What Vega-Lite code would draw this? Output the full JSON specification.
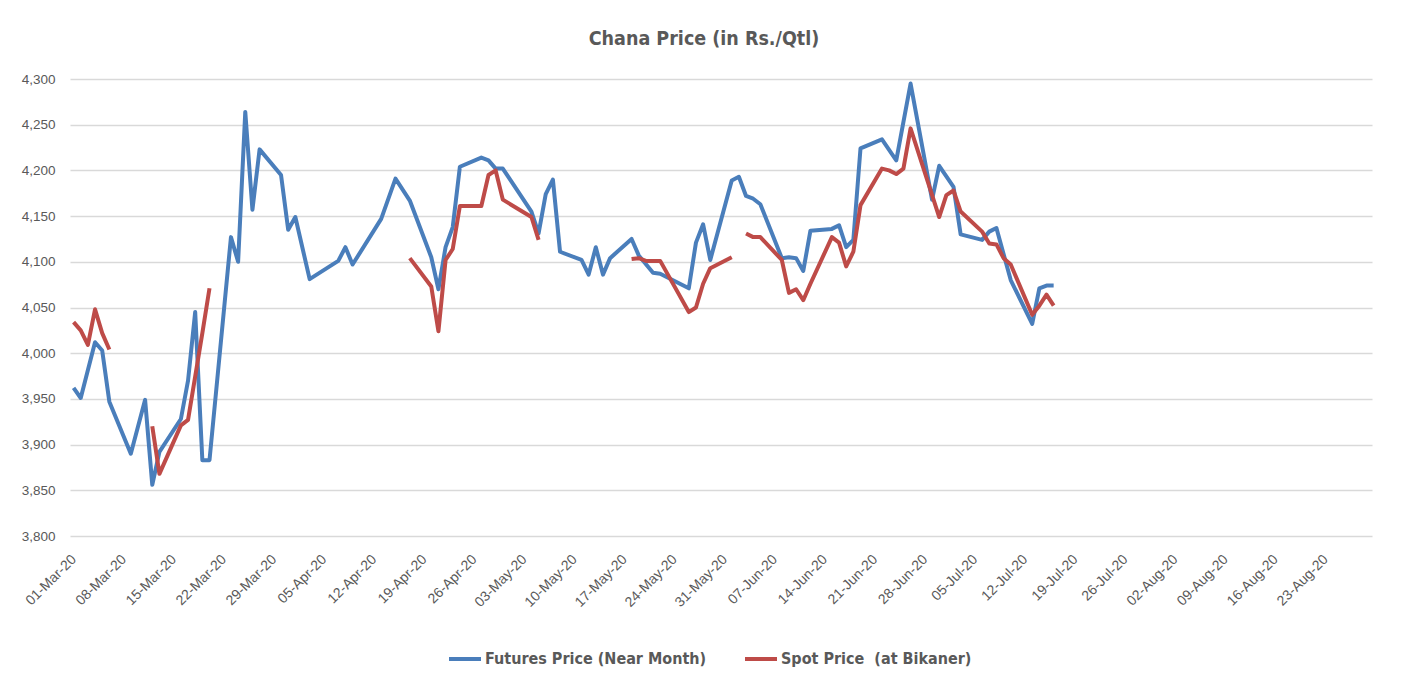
{
  "$schema": "https://vega.github.io/schema/vega-lite/v6.json",
  "autosize": "none",
  "width": 1302,
  "height": 457,
  "padding": {"left": 70, "top": 79, "right": 30, "bottom": 153},
  "background": "white",
  "title": {
    "text": "Chana Price (in Rs./Qtl)",
    "font": "DejaVu Sans Condensed, Liberation Sans, sans-serif",
    "fontSize": 19.5,
    "fontWeight": "bold",
    "color": "#595959",
    "anchor": "middle",
    "dx": -17,
    "offset": 23
  },
  "datasets": {
    "prices": [
      {"date": "2020-03-01", "series": "Futures Price (Near Month)", "seg": "f", "price": 3962},
      {"date": "2020-03-02", "series": "Futures Price (Near Month)", "seg": "f", "price": 3951},
      {"date": "2020-03-04", "series": "Futures Price (Near Month)", "seg": "f", "price": 4012},
      {"date": "2020-03-05", "series": "Futures Price (Near Month)", "seg": "f", "price": 4003},
      {"date": "2020-03-06", "series": "Futures Price (Near Month)", "seg": "f", "price": 3947},
      {"date": "2020-03-09", "series": "Futures Price (Near Month)", "seg": "f", "price": 3890},
      {"date": "2020-03-11", "series": "Futures Price (Near Month)", "seg": "f", "price": 3949},
      {"date": "2020-03-12", "series": "Futures Price (Near Month)", "seg": "f", "price": 3856},
      {"date": "2020-03-13", "series": "Futures Price (Near Month)", "seg": "f", "price": 3892},
      {"date": "2020-03-16", "series": "Futures Price (Near Month)", "seg": "f", "price": 3928},
      {"date": "2020-03-17", "series": "Futures Price (Near Month)", "seg": "f", "price": 3970},
      {"date": "2020-03-18", "series": "Futures Price (Near Month)", "seg": "f", "price": 4045},
      {"date": "2020-03-19", "series": "Futures Price (Near Month)", "seg": "f", "price": 3883},
      {"date": "2020-03-20", "series": "Futures Price (Near Month)", "seg": "f", "price": 3883},
      {"date": "2020-03-23", "series": "Futures Price (Near Month)", "seg": "f", "price": 4127},
      {"date": "2020-03-24", "series": "Futures Price (Near Month)", "seg": "f", "price": 4100},
      {"date": "2020-03-25", "series": "Futures Price (Near Month)", "seg": "f", "price": 4264},
      {"date": "2020-03-26", "series": "Futures Price (Near Month)", "seg": "f", "price": 4157},
      {"date": "2020-03-27", "series": "Futures Price (Near Month)", "seg": "f", "price": 4223},
      {"date": "2020-03-30", "series": "Futures Price (Near Month)", "seg": "f", "price": 4195},
      {"date": "2020-03-31", "series": "Futures Price (Near Month)", "seg": "f", "price": 4135},
      {"date": "2020-04-01", "series": "Futures Price (Near Month)", "seg": "f", "price": 4149},
      {"date": "2020-04-03", "series": "Futures Price (Near Month)", "seg": "f", "price": 4081},
      {"date": "2020-04-07", "series": "Futures Price (Near Month)", "seg": "f", "price": 4101},
      {"date": "2020-04-08", "series": "Futures Price (Near Month)", "seg": "f", "price": 4116},
      {"date": "2020-04-09", "series": "Futures Price (Near Month)", "seg": "f", "price": 4097},
      {"date": "2020-04-13", "series": "Futures Price (Near Month)", "seg": "f", "price": 4147},
      {"date": "2020-04-15", "series": "Futures Price (Near Month)", "seg": "f", "price": 4191},
      {"date": "2020-04-17", "series": "Futures Price (Near Month)", "seg": "f", "price": 4167},
      {"date": "2020-04-20", "series": "Futures Price (Near Month)", "seg": "f", "price": 4105},
      {"date": "2020-04-21", "series": "Futures Price (Near Month)", "seg": "f", "price": 4070},
      {"date": "2020-04-22", "series": "Futures Price (Near Month)", "seg": "f", "price": 4116},
      {"date": "2020-04-23", "series": "Futures Price (Near Month)", "seg": "f", "price": 4138},
      {"date": "2020-04-24", "series": "Futures Price (Near Month)", "seg": "f", "price": 4204},
      {"date": "2020-04-27", "series": "Futures Price (Near Month)", "seg": "f", "price": 4214},
      {"date": "2020-04-28", "series": "Futures Price (Near Month)", "seg": "f", "price": 4211},
      {"date": "2020-04-29", "series": "Futures Price (Near Month)", "seg": "f", "price": 4202},
      {"date": "2020-04-30", "series": "Futures Price (Near Month)", "seg": "f", "price": 4202},
      {"date": "2020-05-04", "series": "Futures Price (Near Month)", "seg": "f", "price": 4155},
      {"date": "2020-05-05", "series": "Futures Price (Near Month)", "seg": "f", "price": 4131},
      {"date": "2020-05-06", "series": "Futures Price (Near Month)", "seg": "f", "price": 4174},
      {"date": "2020-05-07", "series": "Futures Price (Near Month)", "seg": "f", "price": 4190},
      {"date": "2020-05-08", "series": "Futures Price (Near Month)", "seg": "f", "price": 4111},
      {"date": "2020-05-11", "series": "Futures Price (Near Month)", "seg": "f", "price": 4102},
      {"date": "2020-05-12", "series": "Futures Price (Near Month)", "seg": "f", "price": 4086},
      {"date": "2020-05-13", "series": "Futures Price (Near Month)", "seg": "f", "price": 4116},
      {"date": "2020-05-14", "series": "Futures Price (Near Month)", "seg": "f", "price": 4086},
      {"date": "2020-05-15", "series": "Futures Price (Near Month)", "seg": "f", "price": 4104},
      {"date": "2020-05-18", "series": "Futures Price (Near Month)", "seg": "f", "price": 4125},
      {"date": "2020-05-19", "series": "Futures Price (Near Month)", "seg": "f", "price": 4107},
      {"date": "2020-05-21", "series": "Futures Price (Near Month)", "seg": "f", "price": 4088},
      {"date": "2020-05-22", "series": "Futures Price (Near Month)", "seg": "f", "price": 4087},
      {"date": "2020-05-26", "series": "Futures Price (Near Month)", "seg": "f", "price": 4071},
      {"date": "2020-05-27", "series": "Futures Price (Near Month)", "seg": "f", "price": 4121},
      {"date": "2020-05-28", "series": "Futures Price (Near Month)", "seg": "f", "price": 4141},
      {"date": "2020-05-29", "series": "Futures Price (Near Month)", "seg": "f", "price": 4102},
      {"date": "2020-06-01", "series": "Futures Price (Near Month)", "seg": "f", "price": 4189},
      {"date": "2020-06-02", "series": "Futures Price (Near Month)", "seg": "f", "price": 4193},
      {"date": "2020-06-03", "series": "Futures Price (Near Month)", "seg": "f", "price": 4172},
      {"date": "2020-06-04", "series": "Futures Price (Near Month)", "seg": "f", "price": 4169},
      {"date": "2020-06-05", "series": "Futures Price (Near Month)", "seg": "f", "price": 4163},
      {"date": "2020-06-08", "series": "Futures Price (Near Month)", "seg": "f", "price": 4104},
      {"date": "2020-06-09", "series": "Futures Price (Near Month)", "seg": "f", "price": 4105},
      {"date": "2020-06-10", "series": "Futures Price (Near Month)", "seg": "f", "price": 4104},
      {"date": "2020-06-11", "series": "Futures Price (Near Month)", "seg": "f", "price": 4090},
      {"date": "2020-06-12", "series": "Futures Price (Near Month)", "seg": "f", "price": 4134},
      {"date": "2020-06-15", "series": "Futures Price (Near Month)", "seg": "f", "price": 4136},
      {"date": "2020-06-16", "series": "Futures Price (Near Month)", "seg": "f", "price": 4140},
      {"date": "2020-06-17", "series": "Futures Price (Near Month)", "seg": "f", "price": 4116},
      {"date": "2020-06-18", "series": "Futures Price (Near Month)", "seg": "f", "price": 4124},
      {"date": "2020-06-19", "series": "Futures Price (Near Month)", "seg": "f", "price": 4224},
      {"date": "2020-06-22", "series": "Futures Price (Near Month)", "seg": "f", "price": 4234},
      {"date": "2020-06-24", "series": "Futures Price (Near Month)", "seg": "f", "price": 4211},
      {"date": "2020-06-26", "series": "Futures Price (Near Month)", "seg": "f", "price": 4295},
      {"date": "2020-06-29", "series": "Futures Price (Near Month)", "seg": "f", "price": 4168},
      {"date": "2020-06-30", "series": "Futures Price (Near Month)", "seg": "f", "price": 4205},
      {"date": "2020-07-02", "series": "Futures Price (Near Month)", "seg": "f", "price": 4182},
      {"date": "2020-07-03", "series": "Futures Price (Near Month)", "seg": "f", "price": 4130},
      {"date": "2020-07-06", "series": "Futures Price (Near Month)", "seg": "f", "price": 4124},
      {"date": "2020-07-07", "series": "Futures Price (Near Month)", "seg": "f", "price": 4133},
      {"date": "2020-07-08", "series": "Futures Price (Near Month)", "seg": "f", "price": 4137},
      {"date": "2020-07-10", "series": "Futures Price (Near Month)", "seg": "f", "price": 4080},
      {"date": "2020-07-13", "series": "Futures Price (Near Month)", "seg": "f", "price": 4032},
      {"date": "2020-07-14", "series": "Futures Price (Near Month)", "seg": "f", "price": 4071},
      {"date": "2020-07-15", "series": "Futures Price (Near Month)", "seg": "f", "price": 4074},
      {"date": "2020-07-16", "series": "Futures Price (Near Month)", "seg": "f", "price": 4074},

      {"date": "2020-03-01", "series": "Spot Price  (at Bikaner)", "seg": "s1", "price": 4034},
      {"date": "2020-03-02", "series": "Spot Price  (at Bikaner)", "seg": "s1", "price": 4025},
      {"date": "2020-03-03", "series": "Spot Price  (at Bikaner)", "seg": "s1", "price": 4009},
      {"date": "2020-03-04", "series": "Spot Price  (at Bikaner)", "seg": "s1", "price": 4048},
      {"date": "2020-03-05", "series": "Spot Price  (at Bikaner)", "seg": "s1", "price": 4022},
      {"date": "2020-03-06", "series": "Spot Price  (at Bikaner)", "seg": "s1", "price": 4004},
      {"date": "2020-03-12", "series": "Spot Price  (at Bikaner)", "seg": "s2", "price": 3920},
      {"date": "2020-03-13", "series": "Spot Price  (at Bikaner)", "seg": "s2", "price": 3868},
      {"date": "2020-03-16", "series": "Spot Price  (at Bikaner)", "seg": "s2", "price": 3921},
      {"date": "2020-03-17", "series": "Spot Price  (at Bikaner)", "seg": "s2", "price": 3927},
      {"date": "2020-03-19", "series": "Spot Price  (at Bikaner)", "seg": "s2", "price": 4022},
      {"date": "2020-03-20", "series": "Spot Price  (at Bikaner)", "seg": "s2", "price": 4071},
      {"date": "2020-04-17", "series": "Spot Price  (at Bikaner)", "seg": "s3", "price": 4104},
      {"date": "2020-04-20", "series": "Spot Price  (at Bikaner)", "seg": "s3", "price": 4073},
      {"date": "2020-04-21", "series": "Spot Price  (at Bikaner)", "seg": "s3", "price": 4024},
      {"date": "2020-04-22", "series": "Spot Price  (at Bikaner)", "seg": "s3", "price": 4102},
      {"date": "2020-04-23", "series": "Spot Price  (at Bikaner)", "seg": "s3", "price": 4114},
      {"date": "2020-04-24", "series": "Spot Price  (at Bikaner)", "seg": "s3", "price": 4161},
      {"date": "2020-04-27", "series": "Spot Price  (at Bikaner)", "seg": "s3", "price": 4161},
      {"date": "2020-04-28", "series": "Spot Price  (at Bikaner)", "seg": "s3", "price": 4195},
      {"date": "2020-04-29", "series": "Spot Price  (at Bikaner)", "seg": "s3", "price": 4200},
      {"date": "2020-04-30", "series": "Spot Price  (at Bikaner)", "seg": "s3", "price": 4168},
      {"date": "2020-05-04", "series": "Spot Price  (at Bikaner)", "seg": "s3", "price": 4149},
      {"date": "2020-05-05", "series": "Spot Price  (at Bikaner)", "seg": "s3", "price": 4124},
      {"date": "2020-05-18", "series": "Spot Price  (at Bikaner)", "seg": "s4", "price": 4103},
      {"date": "2020-05-19", "series": "Spot Price  (at Bikaner)", "seg": "s4", "price": 4104},
      {"date": "2020-05-20", "series": "Spot Price  (at Bikaner)", "seg": "s4", "price": 4101},
      {"date": "2020-05-22", "series": "Spot Price  (at Bikaner)", "seg": "s4", "price": 4101},
      {"date": "2020-05-26", "series": "Spot Price  (at Bikaner)", "seg": "s4", "price": 4045},
      {"date": "2020-05-27", "series": "Spot Price  (at Bikaner)", "seg": "s4", "price": 4050},
      {"date": "2020-05-28", "series": "Spot Price  (at Bikaner)", "seg": "s4", "price": 4076},
      {"date": "2020-05-29", "series": "Spot Price  (at Bikaner)", "seg": "s4", "price": 4093},
      {"date": "2020-06-01", "series": "Spot Price  (at Bikaner)", "seg": "s4", "price": 4105},
      {"date": "2020-06-03", "series": "Spot Price  (at Bikaner)", "seg": "s5", "price": 4131},
      {"date": "2020-06-04", "series": "Spot Price  (at Bikaner)", "seg": "s5", "price": 4127},
      {"date": "2020-06-05", "series": "Spot Price  (at Bikaner)", "seg": "s5", "price": 4127},
      {"date": "2020-06-08", "series": "Spot Price  (at Bikaner)", "seg": "s5", "price": 4102},
      {"date": "2020-06-09", "series": "Spot Price  (at Bikaner)", "seg": "s5", "price": 4066},
      {"date": "2020-06-10", "series": "Spot Price  (at Bikaner)", "seg": "s5", "price": 4070},
      {"date": "2020-06-11", "series": "Spot Price  (at Bikaner)", "seg": "s5", "price": 4058},
      {"date": "2020-06-12", "series": "Spot Price  (at Bikaner)", "seg": "s5", "price": 4076},
      {"date": "2020-06-15", "series": "Spot Price  (at Bikaner)", "seg": "s5", "price": 4127},
      {"date": "2020-06-16", "series": "Spot Price  (at Bikaner)", "seg": "s5", "price": 4121},
      {"date": "2020-06-17", "series": "Spot Price  (at Bikaner)", "seg": "s5", "price": 4095},
      {"date": "2020-06-18", "series": "Spot Price  (at Bikaner)", "seg": "s5", "price": 4111},
      {"date": "2020-06-19", "series": "Spot Price  (at Bikaner)", "seg": "s5", "price": 4162},
      {"date": "2020-06-22", "series": "Spot Price  (at Bikaner)", "seg": "s5", "price": 4202},
      {"date": "2020-06-23", "series": "Spot Price  (at Bikaner)", "seg": "s5", "price": 4200},
      {"date": "2020-06-24", "series": "Spot Price  (at Bikaner)", "seg": "s5", "price": 4196},
      {"date": "2020-06-25", "series": "Spot Price  (at Bikaner)", "seg": "s5", "price": 4202},
      {"date": "2020-06-26", "series": "Spot Price  (at Bikaner)", "seg": "s5", "price": 4246},
      {"date": "2020-06-30", "series": "Spot Price  (at Bikaner)", "seg": "s5", "price": 4149},
      {"date": "2020-07-01", "series": "Spot Price  (at Bikaner)", "seg": "s5", "price": 4173},
      {"date": "2020-07-02", "series": "Spot Price  (at Bikaner)", "seg": "s5", "price": 4178},
      {"date": "2020-07-03", "series": "Spot Price  (at Bikaner)", "seg": "s5", "price": 4155},
      {"date": "2020-07-06", "series": "Spot Price  (at Bikaner)", "seg": "s5", "price": 4133},
      {"date": "2020-07-07", "series": "Spot Price  (at Bikaner)", "seg": "s5", "price": 4120},
      {"date": "2020-07-08", "series": "Spot Price  (at Bikaner)", "seg": "s5", "price": 4119},
      {"date": "2020-07-09", "series": "Spot Price  (at Bikaner)", "seg": "s5", "price": 4104},
      {"date": "2020-07-10", "series": "Spot Price  (at Bikaner)", "seg": "s5", "price": 4097},
      {"date": "2020-07-13", "series": "Spot Price  (at Bikaner)", "seg": "s5", "price": 4042},
      {"date": "2020-07-14", "series": "Spot Price  (at Bikaner)", "seg": "s5", "price": 4052},
      {"date": "2020-07-15", "series": "Spot Price  (at Bikaner)", "seg": "s5", "price": 4064},
      {"date": "2020-07-16", "series": "Spot Price  (at Bikaner)", "seg": "s5", "price": 4052}
    ]
  },
  "data": {"name": "prices"},
  "encoding": {
    "x": {
      "field": "date",
      "type": "temporal",
      "scale": {
        "type": "utc",
        "domain": [
          {"year": 2020, "month": 2, "date": 29, "hours": 12, "utc": true},
          {"year": 2020, "month": 8, "date": 29, "hours": 12, "utc": true}
        ]
      },
      "axis": {
        "title": null,
        "labelExpr": "utcFormat(datum.value, '%d-%b-%y')",
        "values": [
          {"year": 2020, "month": 3, "date": 1, "utc": true},
          {"year": 2020, "month": 3, "date": 8, "utc": true},
          {"year": 2020, "month": 3, "date": 15, "utc": true},
          {"year": 2020, "month": 3, "date": 22, "utc": true},
          {"year": 2020, "month": 3, "date": 29, "utc": true},
          {"year": 2020, "month": 4, "date": 5, "utc": true},
          {"year": 2020, "month": 4, "date": 12, "utc": true},
          {"year": 2020, "month": 4, "date": 19, "utc": true},
          {"year": 2020, "month": 4, "date": 26, "utc": true},
          {"year": 2020, "month": 5, "date": 3, "utc": true},
          {"year": 2020, "month": 5, "date": 10, "utc": true},
          {"year": 2020, "month": 5, "date": 17, "utc": true},
          {"year": 2020, "month": 5, "date": 24, "utc": true},
          {"year": 2020, "month": 5, "date": 31, "utc": true},
          {"year": 2020, "month": 6, "date": 7, "utc": true},
          {"year": 2020, "month": 6, "date": 14, "utc": true},
          {"year": 2020, "month": 6, "date": 21, "utc": true},
          {"year": 2020, "month": 6, "date": 28, "utc": true},
          {"year": 2020, "month": 7, "date": 5, "utc": true},
          {"year": 2020, "month": 7, "date": 12, "utc": true},
          {"year": 2020, "month": 7, "date": 19, "utc": true},
          {"year": 2020, "month": 7, "date": 26, "utc": true},
          {"year": 2020, "month": 8, "date": 2, "utc": true},
          {"year": 2020, "month": 8, "date": 9, "utc": true},
          {"year": 2020, "month": 8, "date": 16, "utc": true},
          {"year": 2020, "month": 8, "date": 23, "utc": true}
        ],
        "labelAngle": -45,
        "labelAlign": "right",
        "labelBaseline": "middle",
        "labelPadding": 21,
        "labelFontSize": 14,
        "labelOverlap": false,
        "labelBound": false,
        "labelFlush": false,
        "ticks": false,
        "domain": false,
        "grid": false
      }
    },
    "y": {
      "field": "price",
      "type": "quantitative",
      "scale": {"domain": [3800, 4300], "nice": false, "zero": false},
      "axis": {
        "title": null,
        "format": ",d",
        "values": [3800, 3850, 3900, 3950, 4000, 4050, 4100, 4150, 4200, 4250, 4300],
        "grid": true,
        "gridColor": "#d9d9d9",
        "gridWidth": 1.5,
        "ticks": false,
        "domain": false,
        "labelPadding": 15
      }
    },
    "color": {
      "field": "series",
      "type": "nominal",
      "scale": {
        "domain": ["Futures Price (Near Month)", "Spot Price  (at Bikaner)"],
        "range": ["#4a7ebb", "#be4b48"]
      },
      "legend": {
        "title": null,
        "orient": "none",
        "direction": "horizontal",
        "legendX": 377,
        "legendY": 562,
        "symbolType": "stroke",
        "symbolSize": 1024,
        "symbolStrokeWidth": 4,
        "labelFont": "DejaVu Sans Condensed, Liberation Sans, sans-serif",
        "labelFontSize": 16,
        "labelFontWeight": "bold",
        "labelColor": "#595959",
        "labelOffset": 2,
        "columnPadding": 30,
        "labelLimit": 400,
        "labelExpr": "replace(datum.label, '  ', '\u00a0 ')"
      }
    },
    "detail": {"field": "seg", "type": "nominal"}
  },
  "layer": [
    {
      "transform": [{"filter": "datum.seg == 'f'"}],
      "mark": {"type": "line", "strokeWidth": 4, "strokeJoin": "round"}
    },
    {
      "transform": [{"filter": "datum.seg != 'f'"}],
      "mark": {"type": "line", "strokeWidth": 4, "strokeJoin": "round"}
    }
  ],
  "config": {
    "view": {"stroke": null},
    "axis": {
      "labelFont": "Liberation Sans",
      "labelFontSize": 13.5,
      "labelColor": "#595959"
    }
  }
}
